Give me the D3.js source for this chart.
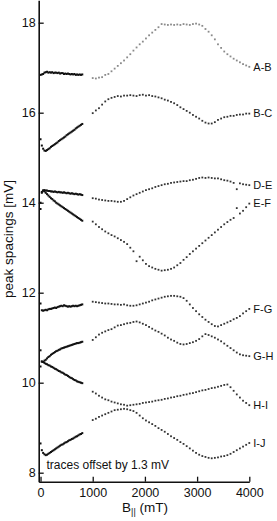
<!DOCTYPE html>
<html>
<head>
<meta charset="utf-8">
<script src="https://cdn.jsdelivr.net/npm/d3@7"></script>
<style>
  body { margin: 0; background: #fff; }
  svg { display: block; }
  text { font-family: "Liberation Sans", Arial, sans-serif; fill: #111; }
</style>
</head>
<body>
<svg id="chart" width="277" height="521"></svg>
<script>
'use strict';

// field values (mT) of the two sweeps
var lowField = [0, 25, 50, 75, 100, 125, 150, 175, 200, 225, 250, 275, 300, 325, 350, 375, 400,
  425, 450, 475, 500, 525, 550, 575, 600, 625, 650, 675, 700, 725, 750, 775, 800];
var highField = [1000, 1060, 1120, 1180, 1240, 1300, 1360, 1420, 1480, 1540, 1600, 1660, 1720,
  1780, 1840, 1900, 1960, 2020, 2080, 2140, 2200, 2260, 2320, 2380, 2440, 2500, 2560, 2620, 2680,
  2740, 2800, 2860, 2920, 2980, 3040, 3100, 3160, 3220, 3280, 3340, 3400, 3460, 3520, 3580, 3640,
  3700, 3760, 3820, 3880, 3940, 4000];

var traceNames = ["A-B", "B-C", "D-E", "E-F", "F-G", "G-H", "H-I", "I-J"];
var xTicks = [0, 1000, 2000, 3000, 4000];
var yTicks = [8, 10, 12, 14, 16, 18];

// peak spacings (mV), low field sweep
var lowAB = [16.84, 16.85, 16.86, 16.89, 16.90, 16.91, 16.89, 16.90, 16.89, 16.90, 16.88, 16.89, 16.89,
  16.88, 16.89, 16.87, 16.88, 16.88, 16.86, 16.87, 16.86, 16.87, 16.86, 16.85, 16.86, 16.85, 16.86,
  16.84, 16.85, 16.84, 16.85, 16.84, 16.85];
var lowBC = [15.41, 15.27, 15.20, 15.16, 15.15, 15.17, 15.19, 15.21, 15.24, 15.26, 15.28, 15.30, 15.32,
  15.34, 15.37, 15.39, 15.41, 15.43, 15.45, 15.47, 15.50, 15.52, 15.54, 15.56, 15.58, 15.60, 15.62,
  15.65, 15.67, 15.69, 15.71, 15.73, 15.75];
var lowDE = [14.00, 14.24, 14.27, 14.28, 14.27, 14.27, 14.26, 14.26, 14.25, 14.25, 14.24, 14.25, 14.24,
  14.23, 14.24, 14.23, 14.23, 14.22, 14.23, 14.22, 14.21, 14.22, 14.21, 14.20, 14.21, 14.20, 14.19,
  14.20, 14.19, 14.18, 14.19, 14.18, 14.17];
var lowEF = [13.86, 14.22, 14.27, 14.25, 14.22, 14.19, 14.16, 14.13, 14.10, 14.08, 14.05, 14.03, 14.00,
  13.98, 13.96, 13.94, 13.92, 13.90, 13.88, 13.86, 13.84, 13.82, 13.80, 13.78, 13.76, 13.74, 13.72,
  13.70, 13.68, 13.66, 13.64, 13.62, 13.60];
var lowFG = [11.76, 11.61, 11.60, 11.61, 11.62, 11.61, 11.63, 11.64, 11.64, 11.65, 11.66, 11.67, 11.66,
  11.68, 11.69, 11.70, 11.71, 11.70, 11.72, 11.71, 11.70, 11.69, 11.70, 11.69, 11.70, 11.71, 11.70,
  11.71, 11.70, 11.71, 11.72, 11.73, 11.74];
var lowGH = [10.72, 10.47, 10.46, 10.49, 10.51, 10.54, 10.57, 10.59, 10.62, 10.64, 10.66, 10.68, 10.70,
  10.71, 10.73, 10.74, 10.76, 10.77, 10.78, 10.79, 10.80, 10.81, 10.82, 10.83, 10.84, 10.85, 10.86,
  10.87, 10.88, 10.88, 10.89, 10.90, 10.91];
var lowHI = [10.36, 10.47, 10.46, 10.44, 10.42, 10.41, 10.39, 10.38, 10.36, 10.35, 10.33, 10.31, 10.30,
  10.28, 10.26, 10.25, 10.23, 10.22, 10.20, 10.18, 10.17, 10.15, 10.13, 10.11, 10.10, 10.08, 10.06,
  10.05, 10.03, 10.02, 10.01, 10.00, 9.99];
var lowIJ = [8.65, 8.50, 8.44, 8.41, 8.39, 8.40, 8.42, 8.44, 8.46, 8.48, 8.50, 8.52, 8.54,
  8.56, 8.58, 8.60, 8.62, 8.63, 8.65, 8.67, 8.68, 8.70, 8.72, 8.73, 8.75, 8.76, 8.78,
  8.80, 8.81, 8.83, 8.85, 8.86, 8.88];

// peak spacings (mV), high field sweep
var highAB = [16.77, 16.76, 16.78, 16.79, 16.84, 16.86, 16.92, 16.98, 17.04, 17.10, 17.16, 17.23, 17.30,
  17.38, 17.45, 17.52, 17.58, 17.65, 17.72, 17.78, 17.84, 17.90, 17.97, 17.96, 17.95, 17.96, 17.95,
  17.96, 17.95, 17.97, 17.96, 17.95, 17.97, 17.98, 17.96, 17.93, 17.86, 17.80, 17.72, 17.63, 17.52,
  17.44, 17.36, 17.30, 17.25, 17.20, 17.16, 17.12, 17.08, 17.05, 17.02];
var highBC = [15.99, 16.05, 16.10, 16.18, 16.25, 16.30, 16.33, 16.35, 16.37, 16.36, 16.38, 16.38, 16.39,
  16.38, 16.37, 16.39, 16.40, 16.38, 16.39, 16.37, 16.36, 16.34, 16.32, 16.29, 16.27, 16.24, 16.21,
  16.17, 16.12, 16.08, 16.04, 16.00, 15.95, 15.91, 15.87, 15.82, 15.78, 15.76, 15.76, 15.79, 15.84,
  15.87, 15.90, 15.91, 15.93, 15.93, 15.95, 15.96, 15.96, 15.98, 15.98];
var highDE = [14.10, 14.09, 14.07, 14.06, 14.05, 14.04, 14.04, 14.03, 14.02, 14.02, 14.04, 14.08, 14.12,
  14.16, 14.19, 14.22, 14.25, 14.28, 14.30, 14.32, 14.35, 14.37, 14.39, 14.41, 14.42, 14.44, 14.45,
  14.46, 14.47, 14.48, 14.48, 14.50, 14.51, 14.53, 14.55, 14.56, 14.55, 14.56, 14.55, 14.54, 14.54,
  14.52, 14.50, 14.49, 14.47, 14.44, 14.30, 14.43, 14.41, 14.40, 14.39];
var highEF = [13.58, 13.52, 13.46, 13.41, 13.36, 13.32, 13.28, 13.25, 13.21, 13.17, 13.13, 13.08, 13.00,
  12.92, 12.70, 12.80, 12.72, 12.64, 12.59, 12.56, 12.53, 12.51, 12.49, 12.50, 12.51, 12.53, 12.56,
  12.61, 12.66, 12.73, 12.79, 12.86, 12.92, 12.98, 13.04, 13.10, 13.16, 13.22, 13.28, 13.34, 13.40,
  13.46, 13.52, 13.57, 13.62, 13.66, 13.88, 13.76, 13.82, 13.90, 13.98];
var highFG = [11.80, 11.79, 11.78, 11.77, 11.76, 11.76, 11.75, 11.74, 11.74, 11.73, 11.74, 11.72, 11.71,
  11.71, 11.72, 11.74, 11.76, 11.78, 11.80, 11.83, 11.85, 11.87, 11.89, 11.91, 11.92, 11.93, 11.93,
  11.92, 11.91, 11.88, 11.82, 11.74, 11.66, 11.59, 11.52, 11.46, 11.40, 11.35, 11.30, 11.26, 11.25,
  11.28, 11.31, 11.34, 11.37, 11.41, 11.44, 11.48, 11.54, 11.59, 11.64];
var highGH = [10.95, 11.01, 11.07, 11.11, 11.14, 11.17, 11.19, 11.23, 11.27, 11.28, 11.30, 11.32, 11.33,
  11.35, 11.36, 11.34, 11.31, 11.28, 11.24, 11.20, 11.16, 11.13, 11.09, 11.05, 11.00, 10.96, 10.93,
  10.89, 10.86, 10.85, 10.86, 10.88, 10.90, 10.93, 10.97, 11.03, 11.08, 11.06, 11.03, 11.00, 10.96,
  10.92, 10.87, 10.82, 10.77, 10.72, 10.67, 10.63, 10.61, 10.60, 10.59];
var highHI = [9.80, 9.76, 9.71, 9.67, 9.63, 9.61, 9.58, 9.56, 9.54, 9.52, 9.51, 9.49, 9.50,
  9.51, 9.52, 9.53, 9.55, 9.56, 9.57, 9.58, 9.60, 9.61, 9.62, 9.64, 9.65, 9.67, 9.68,
  9.70, 9.71, 9.73, 9.74, 9.76, 9.77, 9.79, 9.81, 9.83, 9.84, 9.86, 9.88, 9.89, 9.91,
  9.93, 9.95, 9.96, 9.90, 9.82, 9.74, 9.67, 9.60, 9.55, 9.50];
var highIJ = [9.17, 9.20, 9.24, 9.27, 9.30, 9.33, 9.36, 9.39, 9.40, 9.41, 9.42, 9.41, 9.39,
  9.37, 9.33, 9.27, 9.21, 9.16, 9.12, 9.08, 9.04, 8.99, 8.95, 8.91, 8.86, 8.81, 8.77,
  8.73, 8.68, 8.64, 8.59, 8.54, 8.49, 8.44, 8.40, 8.37, 8.35, 8.33, 8.32, 8.33, 8.34,
  8.36, 8.37, 8.39, 8.42, 8.46, 8.50, 8.54, 8.58, 8.62, 8.66];

var lowSeries = [lowAB, lowBC, lowDE, lowEF, lowFG, lowGH, lowHI, lowIJ];
var highSeries = [highAB, highBC, highDE, highEF, highFG, highGH, highHI, highIJ];

var svg = d3.select("#chart");

var x = d3.scaleLinear().domain([-35, 4000]).range([38.7, 249.3]);
var y = d3.scaleLinear().domain([7.8, 18.5]).range([481.7, 0.2]);

// pairs field / value for one sweep of one trace
function points(fields, values) {
  return values.map(function (v, i) {
    return { b: fields[i], v: v };
  });
}

// low field sweep: dense dots, nearly a line
lowSeries.forEach(function (vals) {
  svg.append("g")
    .selectAll("rect")
    .data(points(lowField, vals))
    .enter()
    .append("rect")
    .attr("x", function (d) { return x(d.b) - 1; })
    .attr("y", function (d) { return y(d.v) - 1; })
    .attr("width", 2)
    .attr("height", 2)
    .attr("fill", "#111");
});

// high field sweep: separate dots
highSeries.forEach(function (vals, k) {
  svg.append("g")
    .selectAll("rect")
    .data(points(highField, vals))
    .enter()
    .append("rect")
    .attr("x", function (d) { return x(d.b) - 0.9; })
    .attr("y", function (d) { return y(d.v) - 0.9; })
    .attr("width", 1.8)
    .attr("height", 1.8)
    .attr("fill", k === 0 ? "#8a8a8a" : "#333");
});

// trace names at the right end
svg.append("g")
  .selectAll("text")
  .data(traceNames)
  .enter()
  .append("text")
  .attr("x", x(4000) + 4)
  .attr("y", function (d, i) { var s = highSeries[i]; return y(s[s.length - 1]); })
  .attr("dy", "0.35em")
  .attr("font-size", "11px")
  .text(function (d) { return d; });

// axes
var yAxis = d3.axisLeft(y).tickValues(yTicks).tickSizeInner(-5).tickSizeOuter(0).tickPadding(3);
var xAxis = d3.axisBottom(x).tickValues(xTicks).tickFormat(d3.format("d"))
  .tickSizeInner(-5).tickSizeOuter(0).tickPadding(6);

var gy = svg.append("g").attr("transform", "translate(38.7,0)").call(yAxis);
var gx = svg.append("g").attr("transform", "translate(0,481.7)").call(xAxis);

[gy, gx].forEach(function (g) {
  g.attr("font-size", null).attr("font-family", null);
  g.select(".domain").attr("stroke", "#111").attr("stroke-width", 1.6);
  g.selectAll(".tick line").attr("stroke", "#111").attr("stroke-width", 1.3);
  g.selectAll(".tick text")
    .style("font-size", "12.5px")
    .attr("fill", "#111");
});

// axis titles
svg.append("text")
  .attr("transform", "translate(12.5,239) rotate(-90)")
  .attr("text-anchor", "middle")
  .attr("font-size", "13.5px")
  .text("peak spacings [mV]");

var xt = svg.append("text")
  .attr("x", 145)
  .attr("y", 512)
  .attr("text-anchor", "middle")
  .attr("font-size", "13.5px");
xt.append("tspan").text("B");
xt.append("tspan").attr("font-size", "9px").attr("dy", 3).text("||");
xt.append("tspan").attr("dy", -3).text(" (mT)");

svg.append("text")
  .attr("x", 46.5)
  .attr("y", 469)
  .attr("font-size", "12px")
  .text("traces offset by 1.3 mV");
</script>
</body>
</html>
